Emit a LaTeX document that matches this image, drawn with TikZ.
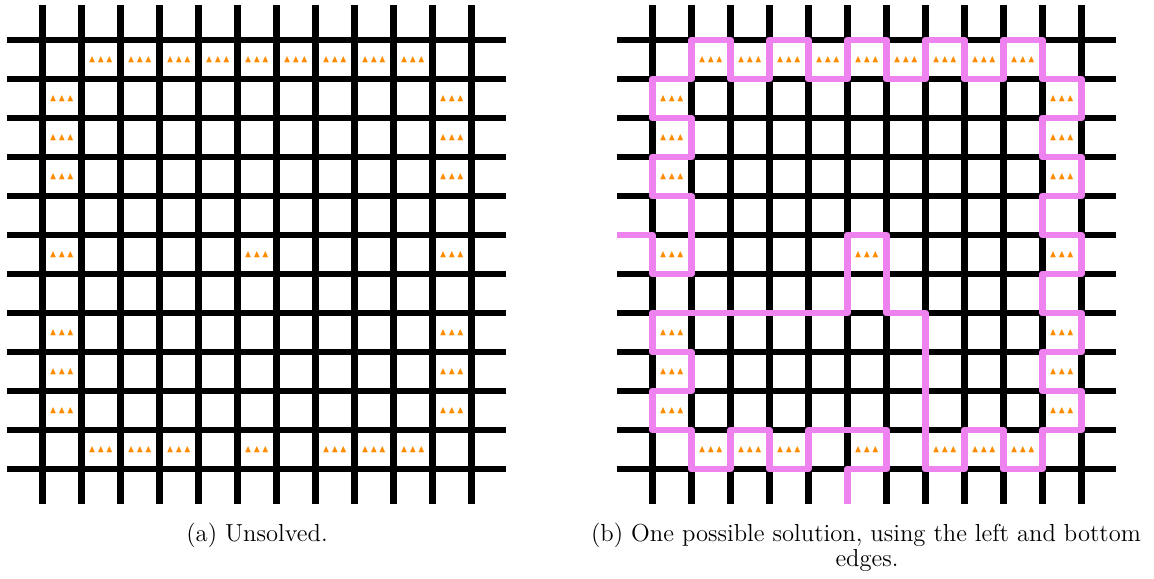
\documentclass[tikz,border=0pt]{standalone}
\usepackage{amssymb}
\definecolor{pathpink}{RGB}{238,130,238}
\definecolor{conecol}{RGB}{255,140,0}
\tikzset{
  gridline/.style={line width=3.35pt, black},
  solpath/.style={line width=3.35pt, pathpink, line join=round},
  cones/.style={inner sep=0pt, text=conecol, font=\fontsize{4.9}{5}\selectfont},
  captbig/.style={anchor=base, inner sep=0pt, font=\fontsize{12.3}{14}\selectfont},
  cellunits/.style={x=19.5pt, y=-19.5pt}
}
\newcommand\mygrid{%
  \foreach \k in {0,...,11} {
    \draw[gridline] (\k,-0.897) -- (\k,11.897);
    \draw[gridline] (-0.897,\k) -- (11.897,\k);
  }}
\newcommand\mycones[1]{%
  \foreach \c/\r in {1/0,2/0,3/0,4/0,5/0,6/0,7/0,8/0,9/0,
      0/1,10/1,0/2,10/2,0/3,10/3,0/5,5/5,10/5,0/7,10/7,0/8,10/8,0/9,10/9,
      1/10,2/10,3/10,5/10,7/10,8/10,9/10} {
    \node[cones] (#1-\c-\r) at (\c+0.5,\r+0.5) {$\blacktriangle\blacktriangle\blacktriangle$};
  }}
\begin{document}
\begin{tikzpicture}[x=0.5pt,y=-0.5pt]
\useasboundingbox (0,0) rectangle (1154,578);
% left panel
\begin{scope}[xshift=21.15pt, yshift=-20pt, cellunits]
  \mygrid
  \mycones{L}
\end{scope}
% right panel
\begin{scope}[xshift=326.15pt, yshift=-20pt, cellunits]
  \mygrid
  \draw[solpath] (-0.897,5) -- (0,5) -- (0,6) -- (1,6) -- (1,4) -- (0,4) -- (0,3) -- (1,3) -- (1,2) -- (0,2) -- (0,1) -- (1,1) -- (1,0) -- (2,0) -- (2,1) -- (3,1) -- (3,0) -- (4,0) -- (4,1) -- (5,1) -- (5,0) -- (6,0) -- (6,1) -- (7,1) -- (7,0) -- (8,0) -- (8,1) -- (9,1) -- (9,0) -- (10,0) -- (10,1) -- (11,1) -- (11,2) -- (10,2) -- (10,3) -- (11,3) -- (11,4) -- (10,4) -- (10,5) -- (11,5) -- (11,6) -- (10,6) -- (10,7) -- (11,7) -- (11,8) -- (10,8) -- (10,9) -- (11,9) -- (11,10) -- (10,10) -- (10,11) -- (9,11) -- (9,10) -- (8,10) -- (8,11) -- (7,11) -- (7,7) -- (6,7) -- (6,5) -- (5,5) -- (5,7) -- (0,7) -- (0,8) -- (1,8) -- (1,9) -- (0,9) -- (0,10) -- (1,10) -- (1,11) -- (2,11) -- (2,10) -- (3,10) -- (3,11) -- (4,11) -- (4,10) -- (6,10) -- (6,11) -- (5,11) -- (5,11.897);
  \mycones{R}
\end{scope}
\node[captbig] (capa) at (257,541) {(a) Unsolved.};
\node[captbig] (capb1) at (866,541) {(b) One possible solution, using the left and bottom};
\node[captbig] (capb2) at (867,566) {edges.};
\end{tikzpicture}
\end{document}
